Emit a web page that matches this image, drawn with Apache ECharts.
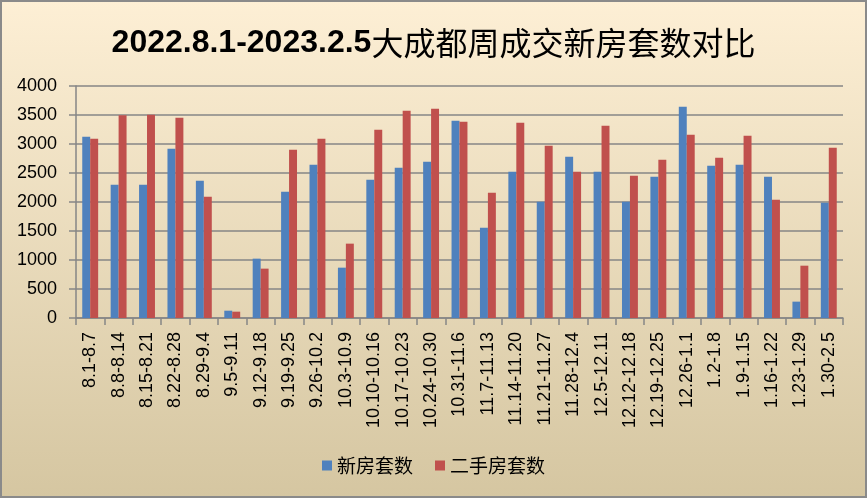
<!DOCTYPE html>
<html><head><meta charset="utf-8">
<script src="https://cdn.jsdelivr.net/npm/echarts@6/dist/echarts.min.js"></script>
<style>html,body{margin:0;padding:0;}#c{width:867px;height:498px;}</style>
</head><body><div id="c"></div>
<script>
const categories = ["8.1-8.7","8.8-8.14","8.15-8.21","8.22-8.28","8.29-9.4","9.5-9.11","9.12-9.18","9.19-9.25","9.26-10.2","10.3-10.9","10.10-10.16","10.17-10.23","10.24-10.30","10.31-11.6","11.7-11.13","11.14-11.20","11.21-11.27","11.28-12.4","12.5-12.11","12.12-12.18","12.19-12.25","12.26-1.1","1.2-1.8","1.9-1.15","1.16-1.22","1.23-1.29","1.30-2.5"];
const newHouse = [3126,2299,2299,2920,2368,126,1023,2178,2644,868,2385,2592,2695,3402,1557,2523,2006,2782,2523,2006,2437,3644,2626,2644,2437,282,1988];
const secondHand = [3092,3494,3506,3454,2092,109,851,2902,3092,1282,3247,3575,3609,3385,2161,3368,2971,2523,3316,2454,2730,3161,2764,3144,2040,902,2937];
const yTicks = [0,500,1000,1500,2000,2500,3000,3500,4000];
const seriesNames = ["新房套数","二手房套数"];
const titleBold = "2022.8.1-2023.2.5";
const titleRest = "大成都周成交新房套数对比";

const chart = echarts.init(document.getElementById('c'));
const gray = '#868686';
chart.setOption({
  animation:false,
  backgroundColor:{type:'linear',x:0,y:0,x2:0,y2:1,colorStops:[{offset:0,color:'#FDEFD5'},{offset:1,color:'#D5C6A1'}]},
  graphic:[{type:'rect',shape:{x:1,y:1,width:865,height:496},style:{fill:'none',stroke:'#8a8a8a',lineWidth:2}}],
  title:{
    text:'{b|'+titleBold+'}{r|'+titleRest+'}',
    left:'center', top:22,
    textStyle:{rich:{
      b:{fontFamily:'Liberation Sans, Arial',fontWeight:'bold',fontSize:32,color:'#000'},
      r:{fontFamily:'Noto Sans CJK SC',fontWeight:'normal',fontSize:32,color:'#000'}
    }}
  },
  legend:{
    bottom:18,left:'center',itemWidth:10,itemHeight:10,itemGap:22,icon:'rect',
    textStyle:{fontFamily:'Noto Sans CJK SC',fontSize:19,color:'#000'},
    data:seriesNames
  },
  grid:{left:76,right:24,top:86,bottom:180},
  xAxis:{
    type:'category',data:categories,
    axisLine:{lineStyle:{color:gray,width:1.5}},
    axisTick:{show:true,length:7,lineStyle:{color:gray,width:1.5}},
    axisLabel:{rotate:90,interval:0,fontFamily:'Liberation Sans, Arial',fontSize:18,color:'#000',margin:14}
  },
  yAxis:{
    type:'value',min:yTicks[0],max:yTicks[yTicks.length-1],interval:500,
    axisLine:{show:true,lineStyle:{color:gray,width:1.5}},
    axisTick:{show:true,length:7,lineStyle:{color:gray,width:1.5}},
    splitLine:{lineStyle:{color:gray,width:1.5}},
    axisLabel:{fontFamily:'Liberation Sans, Arial',fontSize:18,color:'#000',margin:19,formatter:v=>String(v)}
  },
  series:[
    {name:seriesNames[0],type:'bar',data:newHouse,barGap:'0%',barCategoryGap:'44%',itemStyle:{color:'#4F81BD'}},
    {name:seriesNames[1],type:'bar',data:secondHand,barGap:'0%',barCategoryGap:'44%',itemStyle:{color:'#C0504D'}}
  ]
});
</script></body></html>
